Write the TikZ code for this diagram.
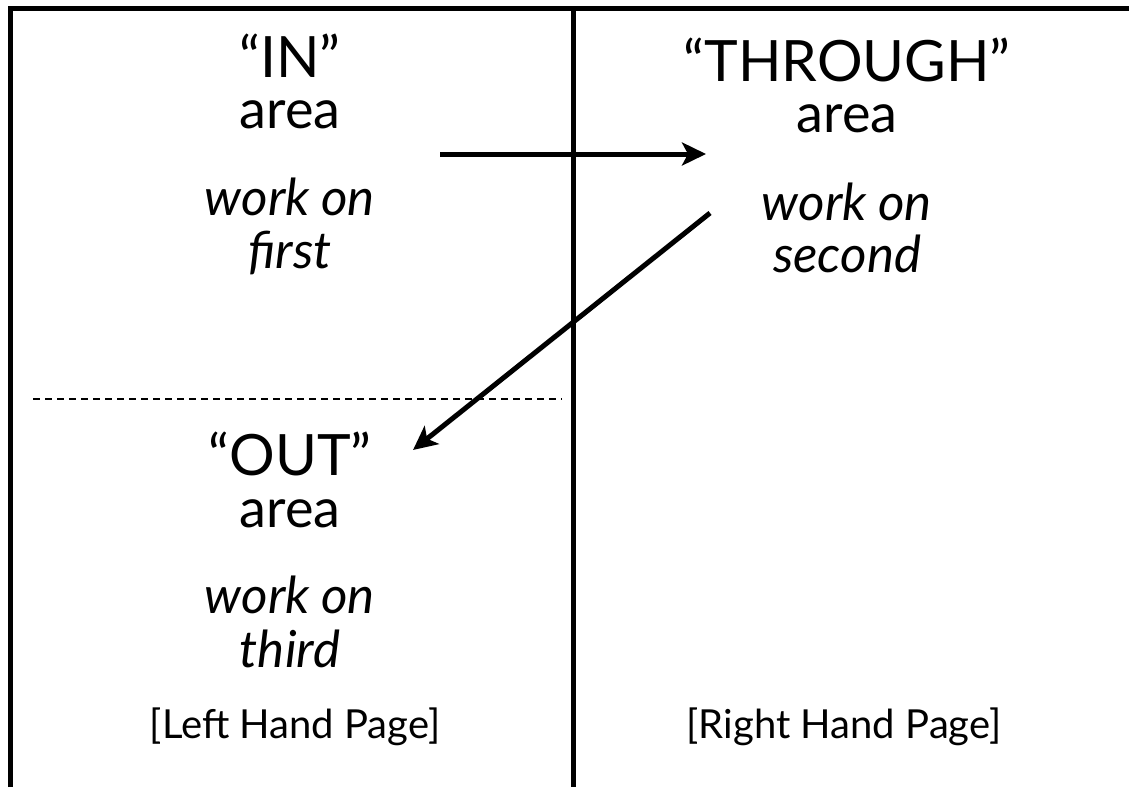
\documentclass[tikz,border=0pt]{standalone}
\usepackage{fontspec}
\setmainfont{Lato}
\usetikzlibrary{arrows.meta}

\begin{document}
\begin{tikzpicture}[x=1pt, y=-1pt,
	frame/.style={line width=5pt},
	split/.style={line width=1.6pt, dash pattern=on 7pt off 5pt},
	flow/.style={line width=5pt, -{Stealth[length=24pt, width=23pt, inset=6pt]}},
	title/.style={anchor=base, inner sep=0pt, font=\fontsize{57}{57}\selectfont},
	head/.style={anchor=base, inner sep=0pt, font=\fontsize{54}{54}\selectfont},
	task/.style={anchor=base, inner sep=0pt, font=\fontsize{51}{51}\selectfont\itshape},
	page/.style={anchor=base, inner sep=0pt, font=\fontsize{40}{40}\selectfont}]
	\useasboundingbox (0,0) rectangle (1129,787);
	% frame and the fold between the pages
	\draw[frame] (10.5,787) -- (10.5,8.5) -- (1129,8.5);
	\draw[frame] (573,8.5) -- (573,787);
	\draw[split] (33,399) -- (562,399);
	% left hand page
	\node[title] (in) at (290,77) {“IN”};
	\node[head] (inarea) at (290,128) {area};
	\node[task] (first) at (290,215) {work on};
	\node[task] (firstb) at (290,268) {first};
	\node[title] (out) at (290,475) {“OUT”};
	\node[head] (outarea) at (290,527) {area};
	\node[task] (third) at (290,613) {work on};
	\node[task] (thirdb) at (290,667) {third};
	\node[page] (lhp) at (295,738) {[Left Hand Page]};
	% right hand page
	\node[title] (through) at (847,81) {“THROUGH”};
	\node[head] (througharea) at (847,132) {area};
	\node[task] (second) at (847,220) {work on};
	\node[task] (secondb) at (847,272) {second};
	\node[page] (rhp) at (844,738) {[Right Hand Page]};
	% moves between the areas
	\coordinate (A) at (440,154);
	\coordinate (B) at (706,154);
	\coordinate (C) at (710,213);
	\coordinate (D) at (413,450);
	\draw[flow] (A) -- (B);
	\draw[flow] (C) -- (D);
\end{tikzpicture}
\end{document}
